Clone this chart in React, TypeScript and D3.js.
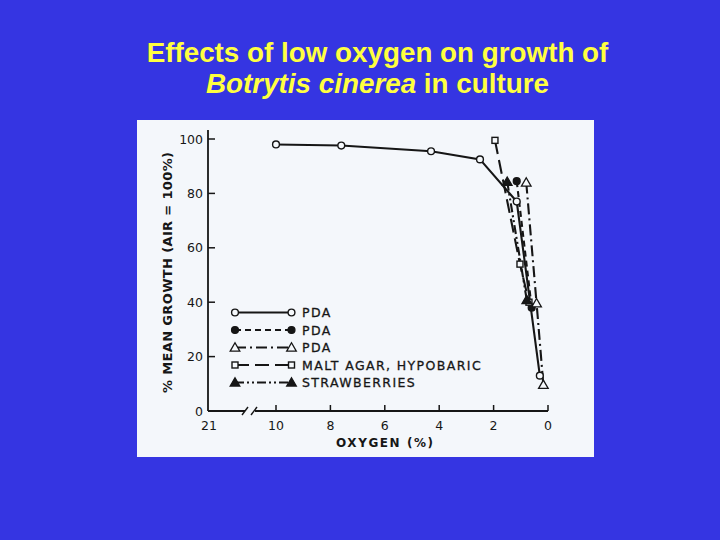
import React from 'react';
import * as d3 from 'd3';

// oxygen (%) / growth (% of air)
const pdaOpenX = [10, 7.6, 4.3, 2.5, 1.15, 0.3];
const pdaOpenY = [98, 97.6, 95.5, 92.5, 77, 13];
const pdaFilledX = [1.15, 0.6];
const pdaFilledY = [84.5, 38];
const pdaTriX = [0.8, 0.42, 0.17];
const pdaTriY = [84, 39.6, 9.6];
const maltX = [1.95, 1.03, 0.7];
const maltY = [99.5, 54, 40];
const strawX = [1.5, 0.78];
const strawY = [84.3, 40.8];

const xTicks = [21, 10, 8, 6, 4, 2, 0];
const yTicks = [0, 20, 40, 60, 80, 100];
const legendLabels = ['PDA', 'PDA', 'PDA', 'MALT AGAR, HYPOBARIC', 'STRAWBERRIES'];

type Marker = 'openCircle' | 'filledCircle' | 'openTriangle' | 'openSquare' | 'filledTriangle';

const series: { xs: number[]; ys: number[]; marker: Marker; dash: string }[] = [
  { xs: pdaOpenX, ys: pdaOpenY, marker: 'openCircle', dash: 'none' },
  { xs: pdaFilledX, ys: pdaFilledY, marker: 'filledCircle', dash: '6,4' },
  { xs: pdaTriX, ys: pdaTriY, marker: 'openTriangle', dash: '11,4,2,4' },
  { xs: maltX, ys: maltY, marker: 'openSquare', dash: '14,6' },
  { xs: strawX, ys: strawY, marker: 'filledTriangle', dash: '9,3,2,3,2,3' },
];

const INK = '#161616';
const AXIS_FONT = "'DejaVu Sans', sans-serif";
const TITLE_FONT = "'Liberation Sans', Arial, sans-serif";

const MarkerShape: React.FC<{ kind: Marker; x: number; y: number }> = ({ kind, x, y }) => {
  const open = '#f6f9fc';
  if (kind === 'openCircle' || kind === 'filledCircle') {
    return <circle cx={x} cy={y} r={3.4} fill={kind === 'filledCircle' ? INK : open} stroke={INK} strokeWidth={1.4} />;
  }
  if (kind === 'openSquare') {
    return <rect x={x - 3} y={y - 3} width={6} height={6} fill={open} stroke={INK} strokeWidth={1.4} />;
  }
  const tri = d3.symbol(d3.symbolTriangle, 40)();
  return (
    <path d={tri ?? ''} transform={`translate(${x},${y + 0.8})`}
      fill={kind === 'filledTriangle' ? INK : open} stroke={INK} strokeWidth={1.3} />
  );
};

export default function App() {
  // polylinear x scale: the 21 (air) tick sits before the axis break
  const x = d3.scaleLinear().domain([21, 10, 0]).range([209, 276, 548]);
  const y = d3.scaleLinear().domain([0, 100]).range([411, 139]);

  const line = d3.line<[number, number]>().x(d => x(d[0])).y(d => y(d[1]));

  const legendY = d3.scalePoint<number>().domain(d3.range(legendLabels.length)).range([312.5, 382.5]);
  const legendX0 = 235;
  const legendX1 = 291.5;

  return (
    <svg width={720} height={540} style={{ position: 'absolute', left: 0, top: 0, display: 'block' }}>
      <rect x={0} y={0} width={720} height={540} fill="#3535e2" />

      <text x={377.5} y={61.5} textAnchor="middle" fill="#ffff40" fontFamily={TITLE_FONT}
        fontWeight="bold" fontSize={27.8}>
        Effects of low oxygen on growth of
      </text>
      <text x={377.5} y={92.5} textAnchor="middle" fill="#ffff40" fontFamily={TITLE_FONT}
        fontWeight="bold" fontSize={27.8}>
        <tspan fontStyle="italic">Botrytis cinerea</tspan> in culture
      </text>

      {/* scanned figure panel */}
      <rect x={137} y={120} width={457} height={337} fill="#f4f7fb" />

      {/* y axis */}
      <line x1={x(21) - 1} x2={x(21) - 1} y1={130} y2={y(0)} stroke={INK} strokeWidth={1.8} />
      {yTicks.map(t => (
        <g key={t}>
          <line x1={x(21) - 1} x2={x(21) + 6} y1={y(t)} y2={y(t)} stroke={INK} strokeWidth={1.5} />
          <text x={203} y={y(t)} dy="0.36em" textAnchor="end" fontFamily={AXIS_FONT} fontSize={12.5} fill={INK}>{t}</text>
        </g>
      ))}
      <text transform={`translate(171.5,272.5) rotate(-90)`} textAnchor="middle" fontFamily={AXIS_FONT}
        fontWeight="bold" fontSize={13} fill={INK} textLength={241} lengthAdjust="spacing">
        % MEAN GROWTH (AIR = 100%)
      </text>

      {/* x axis with break */}
      <line x1={x(21) - 1} x2={x(21) + 36} y1={y(0)} y2={y(0)} stroke={INK} strokeWidth={1.8} />
      <line x1={x(21) + 46} x2={x(0)} y1={y(0)} y2={y(0)} stroke={INK} strokeWidth={1.8} />
      <line x1={x(21) + 33} x2={x(21) + 39} y1={y(0) + 4} y2={y(0) - 4} stroke={INK} strokeWidth={1.4} />
      <line x1={x(21) + 42} x2={x(21) + 48} y1={y(0) + 4} y2={y(0) - 4} stroke={INK} strokeWidth={1.4} />
      {xTicks.map(t => (
        <g key={t}>
          {t !== 21 && <line x1={x(t)} x2={x(t)} y1={y(0)} y2={y(0) - 6} stroke={INK} strokeWidth={1.5} />}
          <text x={x(t)} y={429.5} textAnchor="middle" fontFamily={AXIS_FONT} fontSize={12.5} fill={INK}>{t}</text>
        </g>
      ))}
      <text x={384.5} y={446.5} textAnchor="middle" fontFamily={AXIS_FONT} fontWeight="bold" fontSize={12}
        fill={INK} textLength={97} lengthAdjust="spacing">
        OXYGEN (%)
      </text>

      {/* data */}
      {series.map((s, i) => (
        <path key={`l${i}`} d={line(s.xs.map((v, j) => [v, s.ys[j]] as [number, number])) ?? ''}
          fill="none" stroke={INK} strokeWidth={2.1} strokeDasharray={s.dash} />
      ))}
      {series.map((s, i) => s.xs.map((v, j) => (
        <MarkerShape key={`m${i}-${j}`} kind={s.marker} x={x(v)} y={y(s.ys[j])} />
      )))}

      {/* legend */}
      {series.map((s, i) => (
        <g key={`lg${i}`}>
          <line x1={legendX0} x2={legendX1} y1={legendY(i)} y2={legendY(i)} stroke={INK} strokeWidth={2.1}
            strokeDasharray={s.dash} />
          <MarkerShape kind={s.marker} x={legendX0} y={legendY(i)!} />
          <MarkerShape kind={s.marker} x={legendX1} y={legendY(i)!} />
          <text x={302} y={legendY(i)} dy="0.36em" fontFamily={AXIS_FONT} fontSize={12.5} fill={INK}
            stroke={INK} strokeWidth={0.3} letterSpacing={1.4}>
            {legendLabels[i]}
          </text>
        </g>
      ))}
    </svg>
  );
}
